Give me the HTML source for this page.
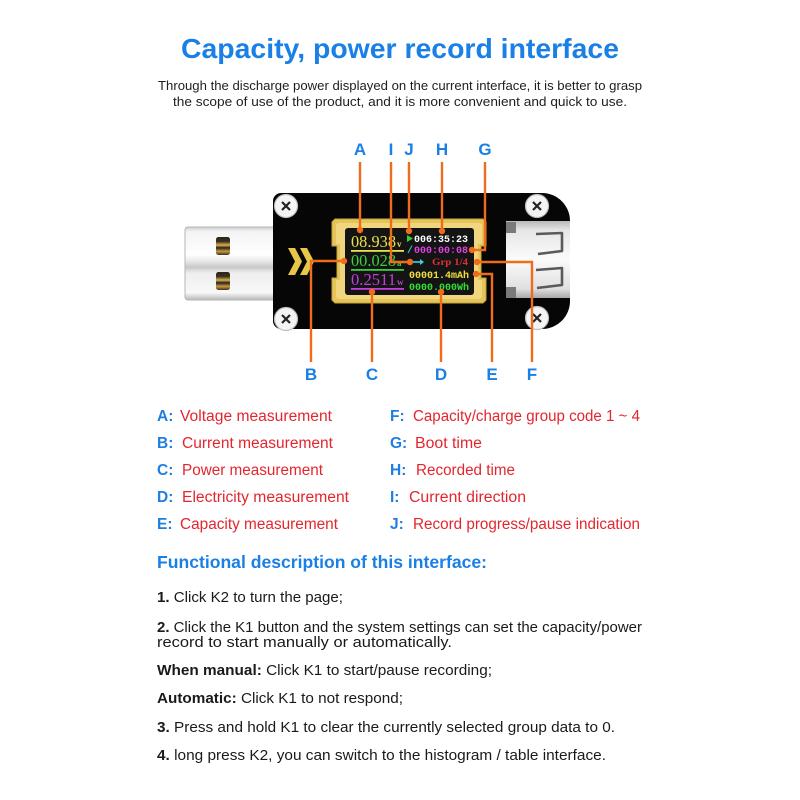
<!DOCTYPE html>
<html>
<head>
<meta charset="utf-8">
<style>
  html,body{margin:0;padding:0;background:#fff;}
  body{width:800px;height:800px;overflow:hidden;position:relative;}
  svg{position:absolute;left:0;top:0;}
  .sans{font-family:"Liberation Sans","Noto Sans CJK SC",sans-serif;}
  .serif{font-family:"Liberation Serif","Noto Serif CJK SC",serif;}
  .mono{font-family:"Liberation Mono",monospace;}
</style>
</head>
<body>
<svg width="800" height="800" viewBox="0 0 800 800" xmlns="http://www.w3.org/2000/svg">
  <defs>
    <linearGradient id="usb" x1="0" y1="0" x2="0" y2="1">
      <stop offset="0" stop-color="#cbcbcb"/>
      <stop offset="0.06" stop-color="#f3f3f3"/>
      <stop offset="0.38" stop-color="#ffffff"/>
      <stop offset="0.48" stop-color="#e4e4e4"/>
      <stop offset="0.55" stop-color="#c8c8c8"/>
      <stop offset="0.63" stop-color="#eeeeee"/>
      <stop offset="0.9" stop-color="#f8f8f8"/>
      <stop offset="1" stop-color="#b8b8b8"/>
    </linearGradient>
    <linearGradient id="tc" x1="0" y1="0" x2="0" y2="1">
      <stop offset="0" stop-color="#b8b8b8"/>
      <stop offset="0.12" stop-color="#e6e6e6"/>
      <stop offset="0.5" stop-color="#fbfbfb"/>
      <stop offset="0.88" stop-color="#e0e0e0"/>
      <stop offset="1" stop-color="#a8a8a8"/>
    </linearGradient>
    <linearGradient id="pin" x1="0" y1="0" x2="0" y2="1">
      <stop offset="0" stop-color="#2a2418"/>
      <stop offset="0.25" stop-color="#3a3020"/>
      <stop offset="0.45" stop-color="#d8b050"/>
      <stop offset="0.6" stop-color="#2a2418"/>
      <stop offset="0.8" stop-color="#c89a40"/>
      <stop offset="1" stop-color="#3a3020"/>
    </linearGradient>
  </defs>

  <!-- Title -->
  <text class="sans" x="400" y="58" text-anchor="middle" font-size="28" font-weight="bold" fill="#1a80e5" textLength="438" lengthAdjust="spacingAndGlyphs">Capacity, power record interface</text>
  <text class="sans" x="400" y="90" text-anchor="middle" font-size="13" fill="#1e1e1e" textLength="484" lengthAdjust="spacingAndGlyphs">Through the discharge power displayed on the current interface, it is better to grasp</text>
  <text class="sans" x="400" y="106" text-anchor="middle" font-size="13" fill="#1e1e1e" textLength="454" lengthAdjust="spacingAndGlyphs">the scope of use of the product, and it is more convenient and quick to use.</text>

  <!-- USB plug -->
  <rect x="185" y="227" width="95" height="73" rx="3" fill="url(#usb)" stroke="#b5b5b5" stroke-width="1"/>
  <rect x="216" y="237" width="14" height="18" rx="2.5" fill="url(#pin)"/>
  <rect x="216" y="272" width="14" height="18" rx="2.5" fill="url(#pin)"/>

  <!-- Body -->
  <path d="M281 193 H542 A28 28 0 0 1 570 221 V301 A28 28 0 0 1 542 329 H281 A8 8 0 0 1 273 321 V201 A8 8 0 0 1 281 193 Z" fill="#060606"/>

  <!-- Type-C connector -->
  <rect x="506" y="221" width="64" height="77" fill="url(#tc)"/>
  <rect x="506" y="222" width="10" height="11" fill="#7a7a7a"/>
  <rect x="506" y="287" width="10" height="11" fill="#7a7a7a"/>
  <path d="M536 234 L562 233 L562 251 L538 254" fill="none" stroke="#5a5a5a" stroke-width="2.6" stroke-linejoin="round"/>
  <path d="M536 270 L562 268 L562 285 L537 288" fill="none" stroke="#5a5a5a" stroke-width="2.6" stroke-linejoin="round"/>

  <!-- Screws -->
  <g>
    <circle cx="286" cy="206" r="11.5" fill="#f4f4f4" stroke="#bdbdbd" stroke-width="1.2"/>
    <path d="M282 202 L290 210 M290 202 L282 210" stroke="#222" stroke-width="2.2"/>
    <circle cx="286" cy="319" r="11.5" fill="#f4f4f4" stroke="#bdbdbd" stroke-width="1.2"/>
    <path d="M282 315 L290 323 M290 315 L282 323" stroke="#222" stroke-width="2.2"/>
    <circle cx="537" cy="206" r="11.5" fill="#f4f4f4" stroke="#bdbdbd" stroke-width="1.2"/>
    <path d="M533 202 L541 210 M541 202 L533 210" stroke="#222" stroke-width="2.2"/>
    <circle cx="537" cy="318" r="11.5" fill="#f4f4f4" stroke="#bdbdbd" stroke-width="1.2"/>
    <path d="M533 314 L541 322 M541 314 L533 322" stroke="#222" stroke-width="2.2"/>
  </g>

  <!-- Chevrons -->
  <polygon points="288,248 295,248 302,261.5 295,275 288,275 295,261.5" fill="#e8c64a"/>
  <polygon points="300,248 307,248 314,261.5 307,275 300,275 307,261.5" fill="#e8c64a"/>

  <!-- Gold frame -->
  <polygon points="335,219 483,219 486,222 486,246 481,246 481,278 486,278 486,300 483,303 335,303 332,300 332,278 337,278 337,246 332,246 332,222" fill="#e5c45a" stroke="#c8a43c" stroke-width="1"/>
  <polygon points="338,223 480,223 482,225 482,244 478,244 478,280 482,280 482,297 480,299 338,299 336,297 336,280 340,280 340,244 336,244 336,225" fill="#f0d67e"/>

  <!-- Screen -->
  <rect x="345" y="228" width="129" height="67" rx="3" fill="#141414"/>

  <!-- Left readings -->
  <text class="serif" x="351" y="247" font-size="17" fill="#ece24a" textLength="45" lengthAdjust="spacingAndGlyphs">08.938</text>
  <text class="serif" x="397" y="247" font-size="9" font-weight="bold" fill="#ece24a">v</text>
  <rect x="351" y="250" width="53" height="1.8" fill="#ece24a"/>
  <text class="serif" x="351" y="266" font-size="17" fill="#3ccf3c" textLength="45" lengthAdjust="spacingAndGlyphs">00.028</text>
  <text class="serif" x="397" y="266" font-size="9" font-weight="bold" fill="#3ccf3c">a</text>
  <rect x="351" y="269" width="53" height="1.8" fill="#3ccf3c"/>
  <text class="serif" x="351" y="285" font-size="17" fill="#c23fdc" textLength="45" lengthAdjust="spacingAndGlyphs">0.2511</text>
  <text class="serif" x="397" y="285" font-size="9" font-weight="bold" fill="#c23fdc">w</text>
  <rect x="351" y="288" width="53" height="1.8" fill="#c23fdc"/>

  <!-- Right readings -->
  <polygon points="407,235 407,242 413,238.5" fill="#2fd02f"/>
  <text class="mono" x="414" y="242" font-size="10" font-weight="bold" fill="#ffffff" textLength="54" lengthAdjust="spacingAndGlyphs">006:35:23</text>
  <text class="mono" x="407" y="253" font-size="10" font-weight="bold" fill="#3fc8e8">/</text>
  <text class="mono" x="414" y="253" font-size="10" font-weight="bold" fill="#e040e0" textLength="54" lengthAdjust="spacingAndGlyphs">000:00:08</text>
  <path d="M413 262 H421" stroke="#3fd0e8" stroke-width="1.6"/>
  <polygon points="420,259 424,262 420,265" fill="#3fd0e8"/>
  <text class="serif" x="432" y="265" font-size="9.5" font-weight="bold" fill="#e23030" textLength="36" lengthAdjust="spacingAndGlyphs">Grp 1/4</text>
  <text class="mono" x="409" y="278" font-size="10" font-weight="bold" fill="#efe040" textLength="60" lengthAdjust="spacingAndGlyphs">00001.4mAh</text>
  <text class="mono" x="409" y="290" font-size="10" font-weight="bold" fill="#33dd33" textLength="60" lengthAdjust="spacingAndGlyphs">0000.000Wh</text>

  <!-- Callout lines -->
  <g stroke="#ef6c1a" stroke-width="2.4" fill="none">
    <path d="M360 162 V230"/>
    <path d="M391 162 V262 H410"/>
    <path d="M409 162 V231"/>
    <path d="M442 162 V231"/>
    <path d="M485 162 V250 H472"/>
    <path d="M311 362 V261 H344"/>
    <path d="M372 362 V292"/>
    <path d="M441 362 V292"/>
    <path d="M492 362 V274 H476"/>
    <path d="M532 362 V262 H477"/>
  </g>
  <g fill="#ef6c1a">
    <circle cx="360" cy="230" r="3.2"/>
    <circle cx="410" cy="262" r="3.2"/>
    <circle cx="409" cy="231" r="3.2"/>
    <circle cx="442" cy="231" r="3.2"/>
    <circle cx="472" cy="250" r="3.2"/>
    <circle cx="344" cy="261" r="3.2"/>
    <circle cx="372" cy="292" r="3.2"/>
    <circle cx="441" cy="292" r="3.2"/>
    <circle cx="476" cy="274" r="3.2"/>
    <circle cx="477" cy="262" r="3.2"/>
  </g>

  <!-- Callout labels -->
  <g class="sans" font-size="17" font-weight="bold" fill="#1a80e5" text-anchor="middle">
    <text x="360" y="155">A</text>
    <text x="391" y="155">I</text>
    <text x="409" y="155">J</text>
    <text x="442" y="155">H</text>
    <text x="485" y="155">G</text>
    <text x="311" y="380">B</text>
    <text x="372" y="380">C</text>
    <text x="441" y="380">D</text>
    <text x="492" y="380">E</text>
    <text x="532" y="380">F</text>
  </g>

  <!-- Legend -->
  <g class="sans" font-size="15.5">
    <g fill="#1f7fe0" font-weight="bold">
      <text x="157" y="421">A:</text>
      <text x="157" y="448">B:</text>
      <text x="157" y="475">C:</text>
      <text x="157" y="502">D:</text>
      <text x="157" y="529">E:</text>
      <text x="390" y="421">F:</text>
      <text x="390" y="448">G:</text>
      <text x="390" y="475">H:</text>
      <text x="390" y="502">I:</text>
      <text x="390" y="529">J:</text>
    </g>
    <g fill="#e3262e">
      <text x="180" y="421" textLength="152" lengthAdjust="spacingAndGlyphs">Voltage measurement</text>
      <text x="182" y="448" textLength="151" lengthAdjust="spacingAndGlyphs">Current measurement</text>
      <text x="182" y="475" textLength="141" lengthAdjust="spacingAndGlyphs">Power measurement</text>
      <text x="182" y="502" textLength="167" lengthAdjust="spacingAndGlyphs">Electricity measurement</text>
      <text x="180" y="529" textLength="158" lengthAdjust="spacingAndGlyphs">Capacity measurement</text>
      <text x="413" y="421" textLength="227" lengthAdjust="spacingAndGlyphs">Capacity/charge group code 1 ~ 4</text>
      <text x="415" y="448" textLength="67" lengthAdjust="spacingAndGlyphs">Boot time</text>
      <text x="416" y="475" textLength="99" lengthAdjust="spacingAndGlyphs">Recorded time</text>
      <text x="409" y="502" textLength="117" lengthAdjust="spacingAndGlyphs">Current direction</text>
      <text x="413" y="529" textLength="227" lengthAdjust="spacingAndGlyphs">Record progress/pause indication</text>
    </g>
  </g>

  <!-- Functional description -->
  <text class="sans" x="157" y="568" font-size="17.5" font-weight="bold" fill="#1a80e5" textLength="330" lengthAdjust="spacingAndGlyphs">Functional description of this interface:</text>
  <g class="sans" font-size="14.5" fill="#1a1a1a">
    <text x="157" y="602" textLength="186" lengthAdjust="spacingAndGlyphs"><tspan font-weight="bold">1.</tspan> Click K2 to turn the page;</text>
    <text x="157" y="632" textLength="485" lengthAdjust="spacingAndGlyphs"><tspan font-weight="bold">2.</tspan> Click the K1 button and the system settings can set the capacity/power</text>
    <text x="157" y="647" textLength="295" lengthAdjust="spacingAndGlyphs">record to start manually or automatically.</text>
    <text x="157" y="675" textLength="335" lengthAdjust="spacingAndGlyphs"><tspan font-weight="bold">When manual:</tspan> Click K1 to start/pause recording;</text>
    <text x="157" y="703" textLength="246" lengthAdjust="spacingAndGlyphs"><tspan font-weight="bold">Automatic:</tspan> Click K1 to not respond;</text>
    <text x="157" y="732" textLength="458" lengthAdjust="spacingAndGlyphs"><tspan font-weight="bold">3.</tspan> Press and hold K1 to clear the currently selected group data to 0.</text>
    <text x="157" y="760" textLength="449" lengthAdjust="spacingAndGlyphs"><tspan font-weight="bold">4.</tspan> long press K2, you can switch to the histogram / table interface.</text>
  </g>
</svg>
</body>
</html>
